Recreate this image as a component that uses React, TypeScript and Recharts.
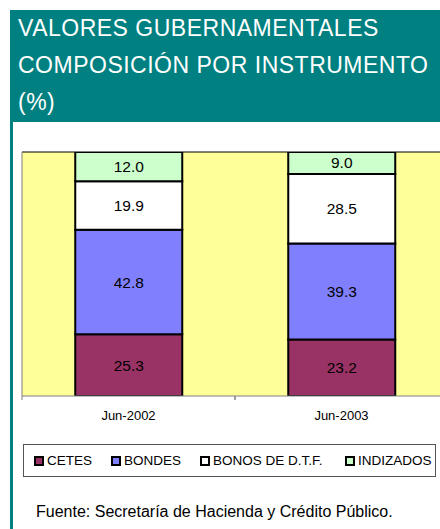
import React from 'react';
import {
  BarChart,
  Bar,
  XAxis,
  YAxis,
  CartesianGrid,
  ReferenceLine,
  LabelList,
  Legend,
} from 'recharts';

const periods = ['Jun-2002', 'Jun-2003'];
const cetes = [25.3, 23.2];
const bondes = [42.8, 39.3];
const bonosDtf = [19.9, 28.5];
const indizados = [12.0, 9.0];

const seriesNames = ['CETES', 'BONDES', 'BONOS DE D.T.F.', 'INDIZADOS'];
const seriesColors = ['#993366', '#8080FF', '#FFFFFF', '#CCFFCC'];
const seriesKeys = ['cetes', 'bondes', 'bonosDtf', 'indizados'];

const data = periods.map((period, i) => ({
  period,
  cetes: cetes[i],
  bondes: bondes[i],
  bonosDtf: bonosDtf[i],
  indizados: indizados[i],
}));

const FONT = 'Arial, "Liberation Sans", sans-serif';

// category label in the middle, tick marks on the band edges (Excel style)
function EdgeTick(props: any) {
  const { x, y, payload } = props;
  const half = payload?.offset ?? 0;
  return (
    <g>
      <line x1={x - half} x2={x - half} y1={y - 8} y2={y - 4} stroke="#808080" />
      <line x1={x + half} x2={x + half} y1={y - 8} y2={y - 4} stroke="#808080" />
      <text
        x={x}
        y={y + 16}
        textAnchor="middle"
        fontSize={13}
        fontFamily={FONT}
        fill="#000"
      >
        {payload.value}
      </text>
    </g>
  );
}

function LegendBox() {
  const offsets = [10, 87, 176, 321];
  return (
    <div
      style={{
        position: 'relative',
        boxSizing: 'border-box',
        height: 33,
        width: 413,
        border: '1px solid #555',
        background: '#fff',
        fontFamily: FONT,
        fontSize: 13.5,
        color: '#000',
      }}
    >
      {seriesNames.map((name, i) => (
        <div
          key={name}
          style={{
            position: 'absolute',
            left: offsets[i],
            top: 7,
            display: 'flex',
            alignItems: 'center',
            height: 17,
          }}
        >
          <span
            style={{
              display: 'inline-block',
              boxSizing: 'border-box',
              width: 10,
              height: 10,
              border: '2px solid #000',
              background: seriesColors[i],
              marginRight: 3,
            }}
          />
          <span>{name}</span>
        </div>
      ))}
    </div>
  );
}

export default function App() {
  return (
    <div
      style={{
        position: 'fixed',
        left: 0,
        top: 0,
        width: 440,
        height: 529,
        overflow: 'hidden',
        background: '#fff',
        fontFamily: FONT,
      }}
    >
      {/* title band */}
      <div
        style={{
          position: 'absolute',
          left: 10,
          top: 10,
          width: 440,
          height: 112,
          background: '#008080',
          color: '#fff',
          fontSize: 23,
          letterSpacing: 0.5,
          lineHeight: '37px',
          paddingLeft: 8,
          boxSizing: 'border-box',
          whiteSpace: 'nowrap',
        }}
      >
        VALORES GUBERNAMENTALES
        <br />
        COMPOSICIÓN POR INSTRUMENTO
        <br />
        (%)
      </div>
      <div
        style={{
          position: 'absolute',
          left: 10,
          top: 122,
          width: 3,
          height: 420,
          background: '#008080',
        }}
      />

      <div style={{ position: 'absolute', left: 0, top: 140 }}>
        <BarChart
          width={470}
          height={389}
          data={data}
          margin={{ top: 12, right: 22, left: 21, bottom: 52 }}
          barCategoryGap="25%"
        >
          <CartesianGrid fill="#FFFF99" horizontal={false} vertical={false} />
          <YAxis
            domain={[0, 100]}
            allowDataOverflow
            width={1}
            tick={false}
            tickLine={false}
            axisLine={{ stroke: '#808080' }}
          />
          <XAxis
            dataKey="period"
            height={48}
            tickLine={false}
            axisLine={{ stroke: '#808080' }}
            tick={<EdgeTick />}
          />
          <ReferenceLine y={100} stroke="#000" ifOverflow="visible" />
          {seriesKeys.map((key, i) => (
            <Bar
              key={key}
              dataKey={key}
              name={seriesNames[i]}
              stackId="a"
              fill={seriesColors[i]}
              stroke="#000"
              strokeWidth={2}
              isAnimationActive={false}
            >
              <LabelList
                dataKey={key}
                position="center"
                formatter={(v: number) => Number(v).toFixed(1)}
                style={{ fontSize: 15.5, fill: '#000', fontFamily: FONT }}
              />
            </Bar>
          ))}
          <Legend
            verticalAlign="bottom"
            wrapperStyle={{ left: 23, width: 413 }}
            content={() => <LegendBox />}
          />
        </BarChart>
      </div>

      <div
        style={{
          position: 'absolute',
          left: 36,
          top: 503,
          fontSize: 16,
          color: '#000',
        }}
      >
        Fuente: Secretaría de Hacienda y Crédito Público.
      </div>
    </div>
  );
}
